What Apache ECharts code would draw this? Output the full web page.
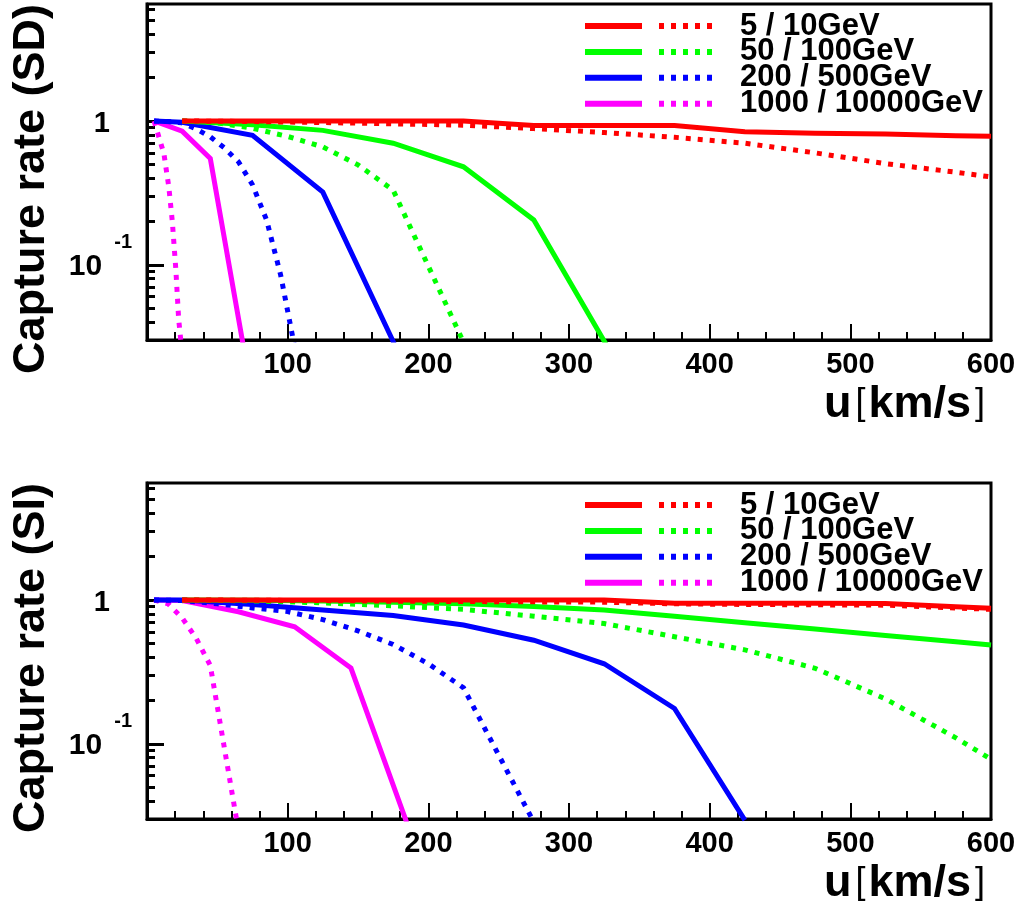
<!DOCTYPE html>
<html>
<head>
<meta charset="utf-8">
<script src="https://cdn.jsdelivr.net/npm/echarts@6/dist/echarts.min.js"></script>
<style>
html,body{margin:0;padding:0;background:#ffffff;}
#chart{width:1024px;height:909px;}
</style>
</head>
<body>
<div id="chart"></div>
<script>
// ---------------- data: [u (km/s), capture rate] ----------------
// Spin-dependent (SD) panel
const sdSolid5     = [[25,1.0],[75,1.0],[125,1.0],[175,1.0],[225,1.0],[275,0.93],[325,0.93],[375,0.93],[425,0.84],[475,0.82],[525,0.81],[575,0.79],[600,0.783]];
const sdDotted10   = [[25,1.0],[75,0.99],[125,0.975],[175,0.955],[225,0.935],[275,0.885],[325,0.83],[375,0.77],[425,0.70],[475,0.60],[525,0.505],[575,0.44],[600,0.408]];
const sdSolid50    = [[25,1.0],[75,0.94],[125,0.86],[175,0.70],[225,0.48],[275,0.205],[325,0.0295],[375,0.004]];
const sdDotted100  = [[25,1.0],[50,0.97],[75,0.89],[100,0.78],[125,0.66],[150,0.495],[175,0.33],[225,0.029],[275,0.002]];
const sdSolid200   = [[5,1.0],[25,0.98],[75,0.795],[125,0.32],[175,0.0293],[225,0.002]];
const sdDotted500  = [[5,1.0],[15,0.99],[25,0.97],[35,0.88],[45,0.775],[55,0.65],[65,0.52],[75,0.36],[85,0.205],[95,0.085],[105,0.0267]];
const sdSolid1000  = [[5,1.0],[25,0.85],[45,0.548],[70,0.0225]];
const sdDotted10000= [[5,1.0],[7.5,0.83],[12,0.594],[15.5,0.348],[18,0.2],[20.5,0.093],[22.5,0.042],[25,0.024]];

// Spin-independent (SI) panel
const siSolid5     = [[25,1.0],[75,1.0],[125,1.0],[175,1.0],[225,1.0],[275,1.0],[325,1.0],[375,0.947],[425,0.947],[475,0.947],[525,0.945],[575,0.898],[600,0.875]];
const siDotted10   = [[25,1.0],[75,0.995],[125,0.99],[175,0.98],[225,0.975],[275,0.97],[325,0.965],[375,0.94],[425,0.93],[475,0.925],[525,0.92],[575,0.88],[600,0.86]];
const siSolid50    = [[25,1.0],[75,0.995],[125,0.985],[175,0.965],[225,0.94],[275,0.90],[325,0.85],[375,0.77],[425,0.695],[475,0.627],[525,0.566],[575,0.512],[600,0.486]];
const siDotted100  = [[25,1.0],[75,0.985],[125,0.955],[175,0.91],[225,0.86],[275,0.77],[325,0.685],[375,0.555],[425,0.45],[475,0.335],[525,0.205],[575,0.11],[600,0.078]];
const siSolid200   = [[5,1.0],[25,1.0],[75,0.93],[125,0.85],[175,0.78],[225,0.67],[275,0.525],[325,0.36],[375,0.176],[425,0.0295]];
const siDotted500  = [[5,1.0],[25,0.99],[50,0.94],[75,0.88],[100,0.83],[125,0.73],[150,0.61],[175,0.49],[200,0.36],[225,0.245],[275,0.0285]];
const siSolid1000  = [[5,1.0],[25,0.99],[65,0.828],[105,0.651],[145,0.336],[185,0.0277]];
const siDotted10000= [[5,1.0],[15,0.94],[25,0.75],[35,0.54],[45,0.35],[65,0.025]];

// categories / labels
const solidMasses  = ['5','50','200','1000'];
const dottedMasses = ['10','100','500','10000'];
const legendLabels = ['5 / 10GeV','50 / 100GeV','200 / 500GeV','1000 / 10000GeV'];
const panelTags    = ['SD','SI'];
const yTitles      = ['Capture rate (SD)','Capture rate (SI)'];

// axis ticks
const xRange       = [0, 600];
const xInterval    = 100;
const yRange       = [0.03, 6.5];
const yMajorTicks  = [0.1, 1];
const yMinorTicks  = [0.04,0.05,0.06,0.07,0.08,0.09,0.2,0.3,0.4,0.5,0.6,0.7,0.8,0.9,2,3,4,5,6];

// ---------------- styling ----------------
const FONT = 'Liberation Sans';
const COLORS = ['#ff0000','#00ff00','#0000ff','#ff00ff'];
const GRID_TOPS = [4, 483];
const GRID_H = 336;
const LEGEND_TOPS = [10.5, 489.5];

const panelSolid  = [[sdSolid5, sdSolid50, sdSolid200, sdSolid1000],[siSolid5, siSolid50, siSolid200, siSolid1000]];
const panelDotted = [[sdDotted10, sdDotted100, sdDotted500, sdDotted10000],[siDotted10, siDotted100, siDotted500, siDotted10000]];

const labelForName = {};
const series = [];
const legends = [];
const grids = [];
const xAxes = [];
const yAxes = [];

panelTags.forEach((tag, p) => {
  grids.push({left:147, width:844, top:GRID_TOPS[p], height:GRID_H, show:true,
    borderColor:'#000', borderWidth:3, backgroundColor:'transparent', outerBoundsMode:'none', containLabel:false});

  xAxes.push({
    type:'value', gridIndex:p, min:xRange[0], max:xRange[1], interval:xInterval,
    axisLine:{show:true, onZero:false, lineStyle:{color:'#000', width:3}},
    axisTick:{show:true, inside:true, length:16, lineStyle:{color:'#000', width:2}},
    minorTick:{show:true, splitNumber:5, length:8, lineStyle:{color:'#000', width:2}},
    splitLine:{show:false}, minorSplitLine:{show:false},
    axisLabel:{margin:10, fontSize:29, fontWeight:'bold', fontFamily:FONT, color:'#000',
      formatter: v => v === 0 ? '' : String(v)},
    name:'{b|u}{r|[}{b|km/s}{r|]}', nameLocation:'end', nameGap:-3, nameMoveOverlap:false,
    nameTextStyle:{align:'right', verticalAlign:'top', padding:[42,0,0,0],
      rich:{
        b:{fontSize:45, lineHeight:45, fontWeight:'bold', fontFamily:FONT, color:'#000'},
        r:{fontSize:36, lineHeight:45, fontWeight:'normal', fontFamily:FONT, color:'#000', padding:[0,3,0,4]}
      }}
  });

  // main log axis with labels + major ticks
  yAxes.push({
    type:'log', logBase:10, gridIndex:p, min:yRange[0], max:yRange[1],
    axisLine:{show:true, lineStyle:{color:'#000', width:3}},
    axisTick:{show:true, inside:true, length:17, customValues:yMajorTicks, lineStyle:{color:'#000', width:3}},
    splitLine:{show:false}, minorTick:{show:false},
    axisLabel:{customValues:yMajorTicks, margin:15,
      formatter: v => {
        const e = Math.round(Math.log10(v));
        return e === 0 ? '{one|1}' : '{n|10}{s|' + e + '}';
      },
      rich:{
        one:{fontSize:29, fontWeight:'bold', fontFamily:FONT, color:'#000', padding:[6,22,0,0]},
        n:{fontSize:30, fontWeight:'bold', fontFamily:FONT, color:'#000', padding:[4,0,0,0]},
        s:{fontSize:20, fontWeight:'bold', fontFamily:FONT, color:'#000', padding:[0,0,45,12]}
      }},
    name:yTitles[p], nameLocation:'end', nameGap:0, nameRotate:90, nameMoveOverlap:false,
    nameTextStyle:{align:'right', verticalAlign:'bottom', padding:[0,0,93,0],
      fontSize:45, lineHeight:45, fontWeight:'bold', fontFamily:FONT, color:'#000'}
  });
  // overlay log axis: minor ticks only
  yAxes.push({
    type:'log', logBase:10, gridIndex:p, min:yRange[0], max:yRange[1], position:'left',
    axisLine:{show:false}, axisLabel:{show:false}, splitLine:{show:false},
    axisTick:{show:true, inside:true, length:8, customValues:yMinorTicks, lineStyle:{color:'#000', width:3}}
  });

  const solidNames = [], dottedNames = [];
  for (let k = 0; k < 4; k++) {
    const sName = tag + ' ' + solidMasses[k] + 'GeV';
    const dName = tag + ' ' + dottedMasses[k] + 'GeV';
    solidNames.push(sName); dottedNames.push(dName);
    labelForName[dName] = legendLabels[k];
  }
  // draw order: magenta, blue, green, red (red on top)
  for (let k = 3; k >= 0; k--) {
    [[solidNames[k], panelSolid[p][k], 'solid'], [dottedNames[k], panelDotted[p][k], [5,7]]].forEach(([nm, d, lt]) => {
      series.push({
        type:'line', name:nm, data:d, xAxisIndex:p, yAxisIndex:p*2,
        symbol:'none', showSymbol:false, clip:true, silent:true, smooth:false,
        lineStyle:{color:COLORS[k], width:5, type:lt, cap:'butt', join:'miter'},
        itemStyle:{color:COLORS[k]}, emphasis:{disabled:true}
      });
    });
  }

  const common = {orient:'vertical', top:LEGEND_TOPS[p], padding:0, itemGap:-5.1, itemHeight:20,
    selectedMode:false, lineStyle:{width:6}, itemStyle:{opacity:0}, z:1};
  legends.push(Object.assign({}, common, {left:582, itemWidth:57, data:solidNames,
    formatter: () => '{t| }',
    textStyle:{fontSize:31, lineHeight:20, rich:{t:{fontSize:31, lineHeight:20, fontFamily:FONT}}}}));
  legends.push(Object.assign({}, common, {left:656, itemWidth:53, data:dottedNames,
    formatter: name => '{t|' + labelForName[name] + '}',
    textStyle:{fontSize:31, lineHeight:20, fontWeight:'bold', fontFamily:FONT, color:'#000',
      rich:{t:{fontSize:31, lineHeight:20, fontWeight:'bold', fontFamily:FONT, color:'#000', padding:[0,0,0,23]}}}}));
});

const chart = echarts.init(document.getElementById('chart'), null, {renderer:'canvas'});
chart.setOption({
  animation:false,
  backgroundColor:'#ffffff',
  grid:grids, xAxis:xAxes, yAxis:yAxes, legend:legends, series:series
});
</script>
</body>
</html>
